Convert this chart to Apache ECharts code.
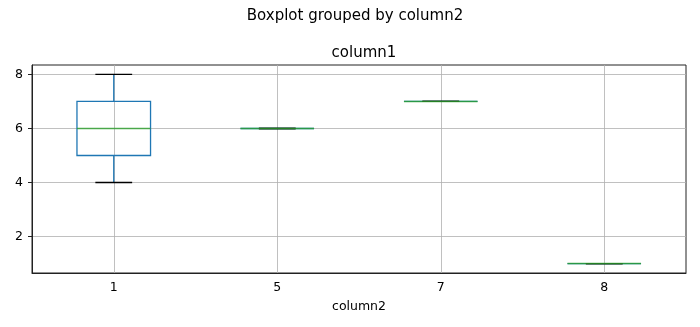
<!DOCTYPE html>
<html>
<head>
<meta charset="utf-8">
<script src="https://cdn.jsdelivr.net/npm/echarts@6/dist/echarts.min.js"></script>
<style>html,body{margin:0;padding:0;background:#fff;}#c{width:700px;height:327px;}</style>
</head>
<body>
<div id="c"></div>
<script>
var categories = ['1', '5', '7', '8'];
var mins    = [4, 6, 7, 1];
var q1s     = [5, 6, 7, 1];
var medians = [6, 6, 7, 1];
var q3s     = [7, 6, 7, 1];
var maxs    = [8, 6, 7, 1];
var yTicks  = [2, 4, 6, 8];

var data = categories.map(function (c, i) {
  return [i, mins[i], q1s[i], medians[i], q3s[i], maxs[i]];
});

var chart = echarts.init(document.getElementById('c'));
var font = 'DejaVu Sans';

function renderItem(params, api) {
  var idx = api.value(0);
  var band = api.size([1, 0])[0];
  var bw = band * 0.45, cw = band * 0.225;
  var pMin = api.coord([idx, api.value(1)]);
  var pQ1 = api.coord([idx, api.value(2)]);
  var pMed = api.coord([idx, api.value(3)]);
  var pQ3 = api.coord([idx, api.value(4)]);
  var pMax = api.coord([idx, api.value(5)]);
  var x = pMed[0];
  var blue = '#1f77b4';
  return {
    type: 'group',
    children: [
      { type: 'rect', shape: { x: x - bw / 2, y: pQ3[1], width: bw, height: pQ1[1] - pQ3[1] },
        style: { fill: 'none', stroke: blue, lineWidth: 1.3 } },
      { type: 'line', shape: { x1: x, y1: pQ1[1], x2: x, y2: pMin[1] }, style: { stroke: blue, lineWidth: 1.3 } },
      { type: 'line', shape: { x1: x, y1: pQ3[1], x2: x, y2: pMax[1] }, style: { stroke: blue, lineWidth: 1.3 } },
      { type: 'line', shape: { x1: x - cw / 2, y1: pMin[1], x2: x + cw / 2, y2: pMin[1] }, style: { stroke: '#000', lineWidth: 1.3 } },
      { type: 'line', shape: { x1: x - cw / 2, y1: pMax[1], x2: x + cw / 2, y2: pMax[1] }, style: { stroke: '#000', lineWidth: 1.3 } },
      { type: 'line', shape: { x1: x - bw / 2, y1: pMed[1], x2: x + bw / 2, y2: pMed[1] }, style: { stroke: '#2ca02c', lineWidth: 1.5, opacity: 0.8 } }
    ]
  };
}

chart.setOption({
  animation: false,
  backgroundColor: '#fff',
  title: [
    { text: 'Boxplot grouped by column2', left: 350, top: 4, textAlign: 'center',
      textStyle: { fontFamily: font, fontSize: 15, fontWeight: 'normal', color: '#000' } },
    { text: 'column1', left: 359, top: 41, textAlign: 'center',
      textStyle: { fontFamily: font, fontSize: 15, fontWeight: 'normal', color: '#000' } }
  ],
  grid: { left: 32, right: 14, top: 65, bottom: 54, show: true, borderColor: '#222', borderWidth: 1, backgroundColor: 'transparent' },
  xAxis: {
    type: 'category',
    data: categories,
    boundaryGap: true,
    name: 'column2',
    nameLocation: 'middle',
    nameGap: 27,
    nameTextStyle: { fontFamily: font, fontSize: 12.5, color: '#000' },
    axisLine: { lineStyle: { color: '#222', width: 1 } },
    axisTick: { alignWithLabel: true, length: 4, lineStyle: { color: '#222' } },
    axisLabel: { fontFamily: font, fontSize: 12.5, color: '#000', margin: 8 },
    splitLine: { show: true, alignWithLabel: true, lineStyle: { color: '#b0b0b0', width: 0.8 } }
  },
  yAxis: {
    type: 'value',
    min: 0.65,
    max: 8.35,
    axisLine: { show: true, lineStyle: { color: '#222', width: 1 } },
    axisTick: { show: true, length: 4, customValues: yTicks, lineStyle: { color: '#222' } },
    axisLabel: { fontFamily: font, fontSize: 12.5, color: '#000', margin: 9, customValues: yTicks },
    splitLine: { show: true, lineStyle: { color: '#b0b0b0', width: 0.8 } }
  },
  series: [{
    type: 'custom',
    renderItem: renderItem,
    encode: { x: 0, y: [1, 2, 3, 4, 5] },
    data: data,
    z: 5
  }]
});
</script>
</body>
</html>
